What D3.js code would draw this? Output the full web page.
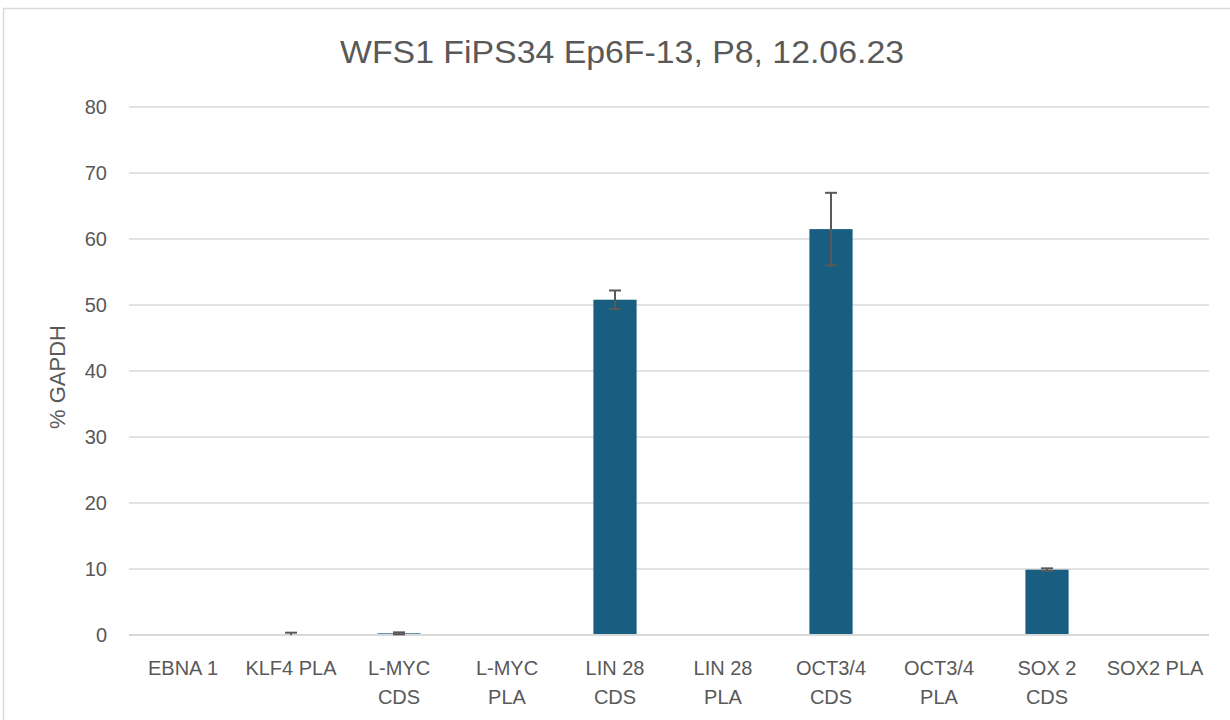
<!DOCTYPE html>
<html>
<head>
<meta charset="utf-8">
<script src="https://cdn.jsdelivr.net/npm/d3@7"></script>
<style>
  body { margin: 0; background: #fff; }
  svg { display: block; font-family: "Liberation Sans", Arial, sans-serif; }
</style>
</head>
<body>
<svg id="svg1" width="1230" height="720"></svg>
<script>
var width = 1230;
var height = 720;

// data
var categories = ['EBNA 1', 'KLF4 PLA', 'L-MYC CDS', 'L-MYC PLA', 'LIN 28 CDS',
                  'LIN 28 PLA', 'OCT3/4 CDS', 'OCT3/4 PLA', 'SOX 2 CDS', 'SOX2 PLA'];
// how each label is wrapped on the axis
var labelLines = [['EBNA 1'], ['KLF4 PLA'], ['L-MYC', 'CDS'], ['L-MYC', 'PLA'], ['LIN 28', 'CDS'],
                  ['LIN 28', 'PLA'], ['OCT3/4', 'CDS'], ['OCT3/4', 'PLA'], ['SOX 2', 'CDS'], ['SOX2 PLA']];
var values = [0, 0.05, 0.25, 0, 50.8, 0, 61.5, 0, 9.9, 0];
var errors = [null, 0.3, 0.15, null, 1.4, null, 5.5, null, 0.2, null];
var yTicks = [0, 10, 20, 30, 40, 50, 60, 70, 80];

var marginLeft = 129;
var marginTop = 107;
var plotW = 1080;
var plotH = 528;

var svg = d3.select('#svg1');

// chart frame
svg.append('rect')
    .attr('x', 3.5)
    .attr('y', 8.5)
    .attr('width', 1300)
    .attr('height', 800)
    .attr('fill', 'white')
    .attr('stroke', '#d9d9d9')
    .attr('stroke-width', 1.5);

var g = svg.append('g')
    .attr('transform', 'translate(' + marginLeft + ',' + marginTop + ')');

var x = d3.scaleBand()
    .domain(categories)
    .range([0, plotW])
    .paddingInner(0.6)
    .paddingOuter(0.3);

var y = d3.scaleLinear()
    .domain([0, 80])
    .range([plotH, 0]);

// gridlines
g.selectAll('.grid')
    .data(yTicks)
    .enter()
    .append('line')
    .attr('class', 'grid')
    .attr('x1', 0)
    .attr('x2', plotW)
    .attr('y1', function(d){ return y(d); })
    .attr('y2', function(d){ return y(d); })
    .attr('stroke', '#d9d9d9')
    .attr('stroke-width', 1.5);

// y axis labels
var yAxis = d3.axisLeft(y).tickValues(yTicks).tickSize(0).tickPadding(22);
g.append('g')
    .call(yAxis)
    .call(function(s){ s.select('.domain').remove(); })
    .selectAll('text')
    .attr('fill', '#595959')
    .style('font-size', '20px')
    .style('font-family', '"Liberation Sans", Arial, sans-serif');

// bars
g.selectAll('.bar')
    .data(values)
    .enter()
    .append('rect')
    .attr('class', 'bar')
    .attr('x', function(d, i){ return x(categories[i]); })
    .attr('width', x.bandwidth())
    .attr('y', function(d){ return y(d); })
    .attr('height', function(d){ return y(0) - y(d); })
    .attr('fill', '#175e81');

// x axis line
g.append('line')
    .attr('x1', 0)
    .attr('x2', plotW)
    .attr('y1', y(0))
    .attr('y2', y(0))
    .attr('stroke', '#d9d9d9')
    .attr('stroke-width', 2);

// error bars
var errData = [];
values.forEach(function(v, i){
    if (errors[i] != null) errData.push({cat: categories[i], v: v, e: errors[i]});
});
var capW = 12;
var eb = g.selectAll('.err')
    .data(errData)
    .enter()
    .append('g')
    .attr('class', 'err')
    .attr('stroke', '#595959')
    .attr('stroke-width', 2);
eb.append('line')
    .attr('x1', function(d){ return x(d.cat) + x.bandwidth() / 2; })
    .attr('x2', function(d){ return x(d.cat) + x.bandwidth() / 2; })
    .attr('y1', function(d){ return y(d.v + d.e); })
    .attr('y2', function(d){ return y(Math.max(0, d.v - d.e)); });
eb.append('line')
    .attr('x1', function(d){ return x(d.cat) + x.bandwidth() / 2 - capW / 2; })
    .attr('x2', function(d){ return x(d.cat) + x.bandwidth() / 2 + capW / 2; })
    .attr('y1', function(d){ return y(d.v + d.e); })
    .attr('y2', function(d){ return y(d.v + d.e); });
eb.filter(function(d){ return d.v - d.e > 0; })
    .append('line')
    .attr('x1', function(d){ return x(d.cat) + x.bandwidth() / 2 - capW / 2; })
    .attr('x2', function(d){ return x(d.cat) + x.bandwidth() / 2 + capW / 2; })
    .attr('y1', function(d){ return y(d.v - d.e); })
    .attr('y2', function(d){ return y(d.v - d.e); });

// category labels
var xl = g.selectAll('.xlab')
    .data(categories)
    .enter()
    .append('text')
    .attr('class', 'xlab')
    .attr('text-anchor', 'middle')
    .attr('fill', '#595959')
    .style('font-size', '20px');
xl.each(function(d, i){
    var t = d3.select(this);
    labelLines[i].forEach(function(line, j){
        t.append('tspan')
            .attr('x', x(d) + x.bandwidth() / 2)
            .attr('y', plotH + 40 + j * 29)
            .text(line);
    });
});

// y axis title
svg.append('text')
    .attr('transform', 'translate(65,' + (marginTop + plotH / 2 + 6) + ') rotate(-90)')
    .attr('text-anchor', 'middle')
    .attr('fill', '#595959')
    .style('font-size', '22px')
    .text('% GAPDH');

// chart title
svg.append('text')
    .attr('x', 622)
    .attr('y', 63)
    .attr('text-anchor', 'middle')
    .attr('fill', '#595959')
    .attr('textLength', 564)
    .attr('lengthAdjust', 'spacingAndGlyphs')
    .style('font-size', '32px')
    .text('WFS1 FiPS34 Ep6F-13, P8, 12.06.23');
</script>
</body>
</html>
